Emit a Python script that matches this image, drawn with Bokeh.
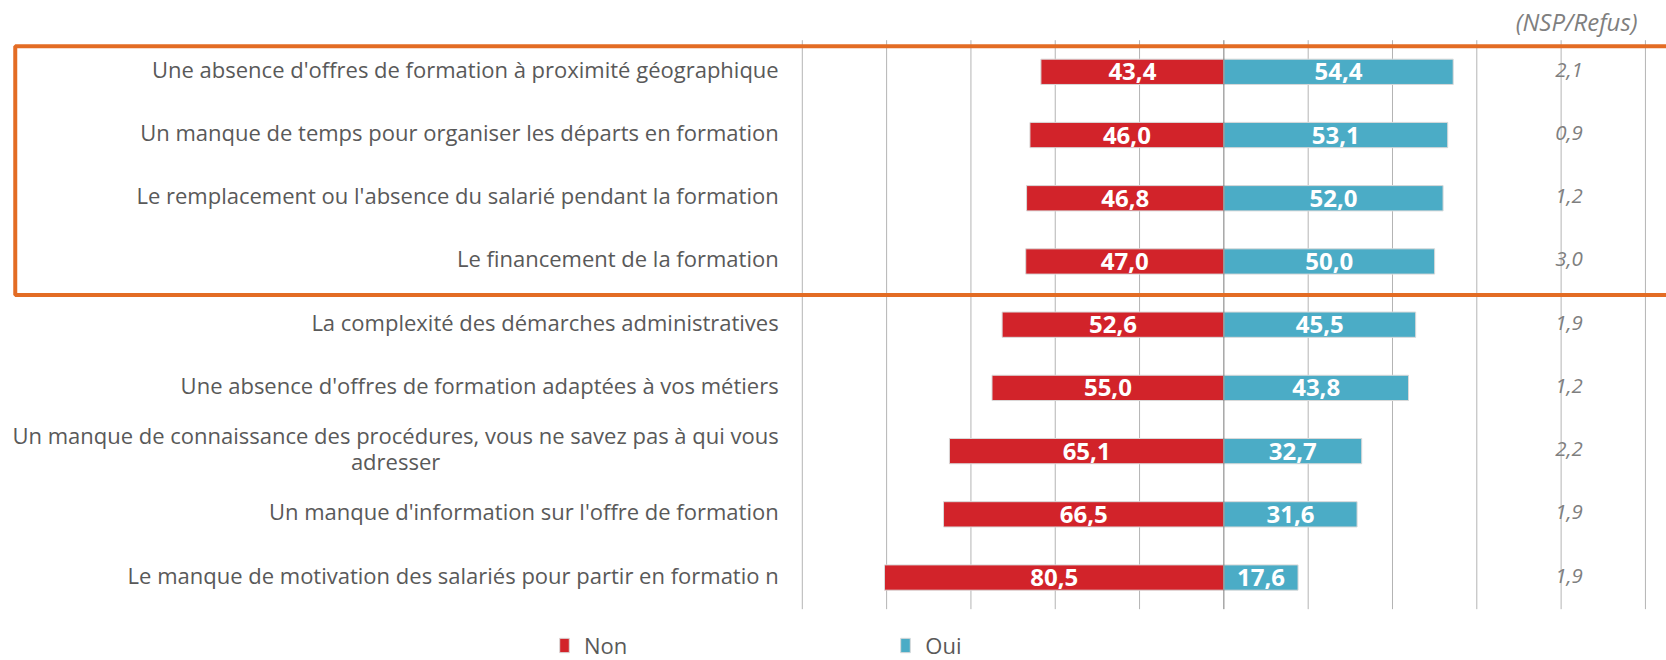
from bokeh.plotting import figure
from bokeh.models import (ColumnDataSource, Range1d, BoxAnnotation, Label,
                          Legend, LegendItem)
from bokeh.core.properties import value
from bokeh.embed import file_html
from bokeh.resources import INLINE

# ---------------- data ----------------
categories = [
    "Une absence d'offres de formation à proximité géographique",
    "Un manque de temps pour organiser les départs en formation",
    "Le remplacement ou l'absence du salarié pendant la formation",
    "Le financement de la formation",
    "La complexité des démarches administratives",
    "Une absence d'offres de formation adaptées à vos métiers",
    "Un manque de connaissance des procédures, vous ne savez pas à qui vous\nadresser",
    "Un manque d'information sur l'offre de formation",
    "Le manque de motivation des salariés pour partir en formatio n",
]
non = [43.4, 46.0, 46.8, 47.0, 52.6, 55.0, 65.1, 66.5, 80.5]
oui = [54.4, 53.1, 52.0, 50.0, 45.5, 43.8, 32.7, 31.6, 17.6]
nsp = [2.1, 0.9, 1.2, 3.0, 1.9, 1.2, 2.2, 1.9, 1.9]
series = ["Non", "Oui"]
nsp_title = "(NSP/Refus)"
grid_ticks = [-100, -80, -60, -40, -20, 0, 20, 40, 60, 80, 100]

# ---------------- styles ----------------
RED = "#D2232A"
BLUE = "#4BACC6"
ORANGE = "#E36C24"
LABEL_GRAY = "#595959"
NSP_GRAY = "#7F7F7F"
FONT = "Open Sans"


def fmt(v):
    return f"{v:.1f}".replace(".", ",")


rows = list(range(len(categories)))
first_row, last_row = rows[0] - 0.5, rows[-1] + 0.5

src = ColumnDataSource(dict(
    y=rows,
    cat=categories,
    non_left=[-v for v in non],
    non_mid=[-v / 2 for v in non],
    non_txt=[fmt(v) for v in non],
    oui=oui,
    oui_mid=[v / 2 for v in oui],
    oui_txt=[fmt(v) for v in oui],
    nsp_txt=[fmt(v) for v in nsp],
))
grid_src = ColumnDataSource(dict(
    x=[t for t in grid_ticks if t != 0],
))

W, H = 1666, 660
p = figure(width=W, height=H,
           x_range=Range1d(-290.2, 105.0),
           y_range=Range1d(9.312, -1.128),
           x_axis_type=None, y_axis_type=None,
           toolbar_location=None, output_backend="svg",
           min_border_left=0, min_border_right=0,
           min_border_top=0, min_border_bottom=0,
           outline_line_color=None,
           background_fill_color="white", border_fill_color="white")

# vertical grid lines limited to the plotting rows
p.segment(x0="x", x1="x", y0=first_row, y1=last_row, source=grid_src,
          line_color="#B4B4B4", line_width=1)

r_non = p.hbar(y="y", left="non_left", right=0, height=0.4, source=src,
               fill_color=RED, line_color="#D9D9D9", line_width=1)
r_oui = p.hbar(y="y", left=0, right="oui", height=0.4, source=src,
               fill_color=BLUE, line_color="#D9D9D9", line_width=1)

# zero axis line
p.segment(x0=0, x1=0, y0=first_row, y1=last_row, line_color="#7A7A7A",
          line_width=1)

# value labels
p.text(x="non_mid", y="y", text="non_txt", source=src,
       text_align="center", text_baseline="middle", text_color="white",
       text_font=value(FONT), text_font_style="bold", text_font_size="24px")
p.text(x="oui_mid", y="y", text="oui_txt", source=src,
       text_align="center", text_baseline="middle", text_color="white",
       text_font=value(FONT), text_font_style="bold", text_font_size="24px")

# category labels
p.text(x=-105.6, y="y", text="cat", source=src, y_offset=-3,
       anchor=value("center_right"), text_align="center",
       text_baseline="middle", text_color=LABEL_GRAY,
       text_font=value(FONT), text_font_size="22px", text_line_height=0.88)

# NSP column
p.text(x=78.6, y="y", text="nsp_txt", source=src, y_offset=-2,
       text_align="left", text_baseline="middle", text_color=NSP_GRAY,
       text_font=value(FONT), text_font_style="italic", text_font_size="20.5px")

p.add_layout(Label(x=98.15, y=-0.8, text=nsp_title, text_align="right",
                   text_baseline="middle", text_color=NSP_GRAY,
                   text_font=FONT, text_font_style="italic",
                   text_font_size="24px"))

# highlight box
p.add_layout(BoxAnnotation(left=-286.7, right=250, top=-0.405, bottom=3.53,
                           fill_color=None, fill_alpha=0,
                           line_color=ORANGE, line_alpha=1, line_width=4))

legend = Legend(items=[LegendItem(label=series[0], renderers=[r_non]),
                       LegendItem(label=series[1], renderers=[r_oui])],
                orientation="horizontal", location=(558, 0),
                padding=0, margin=0, spacing=272,
                glyph_width=12, glyph_height=18, label_standoff=14,
                label_height=18,
                label_text_font=FONT, label_text_font_size="22px",
                label_text_color=LABEL_GRAY,
                border_line_color=None, background_fill_alpha=0)
p.add_layout(legend)

open("out.html", "w").write(file_html(p, INLINE))
